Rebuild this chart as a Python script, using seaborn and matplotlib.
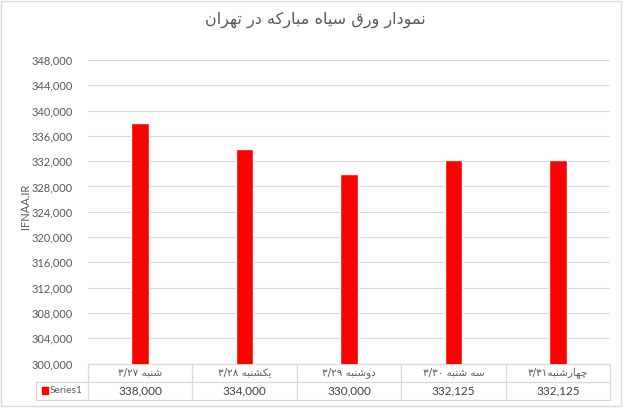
import matplotlib
matplotlib.use("Agg")
import matplotlib.pyplot as plt
import matplotlib.transforms as mtransforms
from matplotlib.patches import Rectangle
import seaborn as sns
import pandas as pd

# ─── Data ─────────────────────────────────────────────────────────────────────
TITLE = "نمودار ورق سیاه مبارکه در تهران"
CATEGORIES = ["شنبه ۳/۲۷", "یکشنبه ۳/۲۸", "دوشنبه ۳/۲۹", "سه شنبه ۳/۳۰", "چهارشنبه۳/۳۱"]
VALUES = [338000, 334000, 330000, 332125, 332125]
SERIES_NAME = "Series1"
Y_LABEL = "IFNAA.IR"
Y_TICKS = list(range(300000, 348001, 4000))

RED = "#FF0000"
GRID = "#D9D9D9"
TEXT = "#595959"

# ─── Minimal Persian shaping (matplotlib has no bidi / joining) ──────────────
# char -> (isolated, final, initial, medial); right-joining letters have no ini/med
FORMS = {
    "ا": ("\uFE8D", "\uFE8E", None, None),
    "ب": ("\uFE8F", "\uFE90", "\uFE91", "\uFE92"),
    "ت": ("\uFE95", "\uFE96", "\uFE97", "\uFE98"),
    "د": ("\uFEA9", "\uFEAA", None, None),
    "ر": ("\uFEAD", "\uFEAE", None, None),
    "س": ("\uFEB1", "\uFEB2", "\uFEB3", "\uFEB4"),
    "ش": ("\uFEB5", "\uFEB6", "\uFEB7", "\uFEB8"),
    "ق": ("\uFED5", "\uFED6", "\uFED7", "\uFED8"),
    "م": ("\uFEE1", "\uFEE2", "\uFEE3", "\uFEE4"),
    "ن": ("\uFEE5", "\uFEE6", "\uFEE7", "\uFEE8"),
    "ه": ("\uFEE9", "\uFEEA", "\uFEEB", "\uFEEC"),
    "و": ("\uFEED", "\uFEEE", None, None),
    "چ": ("\uFB7A", "\uFB7B", "\uFB7C", "\uFB7D"),
    "ک": ("\uFB8E", "\uFB8F", "\uFB90", "\uFB91"),
    "ی": ("\uFBFC", "\uFBFD", "\uFBFE", "\uFBFF"),
}
DIGITS = set("۰۱۲۳۴۵۶۷۸۹/")


def rtl(s):
    shaped = []
    for i, c in enumerate(s):
        if c not in FORMS:
            shaped.append(c)
            continue
        prev = s[i - 1] if i > 0 else None
        nxt = s[i + 1] if i + 1 < len(s) else None
        jp = prev in FORMS and FORMS[prev][2] is not None
        jn = FORMS[c][2] is not None and nxt in FORMS
        iso, fin, ini, med = FORMS[c]
        shaped.append(med if jp and jn else fin if jp else ini if jn else iso)
    # split into digit runs / letter runs, then lay out right-to-left
    runs, cur, cur_digit = [], "", None
    for orig, g in zip(s, shaped):
        d = orig in DIGITS
        if cur and d != cur_digit:
            runs.append((cur, cur_digit))
            cur = ""
        cur += g
        cur_digit = d
    if cur:
        runs.append((cur, cur_digit))
    return "".join(r if d else r[::-1] for r, d in reversed(runs))


# ─── Plot ─────────────────────────────────────────────────────────────────────
sns.set_style("white")
plt.rcParams["font.family"] = ["Lato", "DejaVu Sans"]

df = pd.DataFrame({"day": range(len(VALUES)), "price": VALUES})

fig = plt.figure(figsize=(6.24, 4.08), dpi=100)
ax = fig.add_axes([88 / 624, 44.5 / 408, 522 / 624, 303.5 / 408])

sns.barplot(data=df, x="day", y="price", color=RED, saturation=1,
            width=0.17, ax=ax, zorder=3)

ax.set_xlim(-0.5, len(VALUES) - 0.5)
ax.set_ylim(Y_TICKS[0], Y_TICKS[-1])
ax.set_yticks(Y_TICKS)
ax.set_yticklabels([f"{t:,}" for t in Y_TICKS], fontsize=8, color=TEXT)
ax.tick_params(axis="y", length=0, pad=11)
ax.set_xticks([])
ax.set_xlabel("")
ax.set_ylabel("")
ax.grid(axis="y", color=GRID, lw=0.8, zorder=0)
for sp in ax.spines.values():
    sp.set_visible(False)

# ── data table under the plot (x in category units, y in axes fraction)
tr = mtransforms.blended_transform_factory(ax.transData, ax.transAxes)
row_h = 18 / 303.5
n = len(VALUES)
left, lo, hi = -0.5, -1.0, n - 0.5
line_kw = dict(color=GRID, lw=0.9, transform=tr, clip_on=False)
ax.plot([left, hi], [0, 0], **line_kw)
ax.plot([lo, hi], [-row_h, -row_h], **line_kw)
ax.plot([lo, hi], [-2 * row_h, -2 * row_h], **line_kw)
ax.plot([lo, lo], [-row_h, -2 * row_h], **line_kw)
for k in range(n + 1):
    ax.plot([k - 0.5, k - 0.5], [0, -2 * row_h], **line_kw)

for i, (cat, val) in enumerate(zip(CATEGORIES, VALUES)):
    ax.text(i, -row_h / 2, rtl(cat), transform=tr, ha="center", va="center",
            fontsize=7.5, color=TEXT, family=["DejaVu Sans"])
    ax.text(i, -1.5 * row_h, f"{val:,}", transform=tr, ha="center", va="center",
            fontsize=8.5, color="#404040")

ax.add_patch(Rectangle((-0.94, -1.72 * row_h), 0.055, 0.44 * row_h,
                       transform=tr, color=RED, clip_on=False))
ax.text(-0.865, -1.5 * row_h, SERIES_NAME, transform=tr, ha="left", va="center",
        fontsize=7.3, color=TEXT)

# ── title, axis title, chart border
fig.text(315 / 624, 388 / 408, rtl(TITLE), ha="center", va="center",
         fontsize=11.5, color=TEXT, family=["DejaVu Sans"])
fig.text(25 / 624, 202 / 408, Y_LABEL, rotation=90, ha="center", va="center",
         fontsize=8, color=TEXT)
fig.patches.append(Rectangle((1 / 624, 2 / 408), 620 / 624, 405 / 408,
                             transform=fig.transFigure, fill=False,
                             edgecolor=GRID, lw=1))

fig.savefig("out.png", dpi=100)
